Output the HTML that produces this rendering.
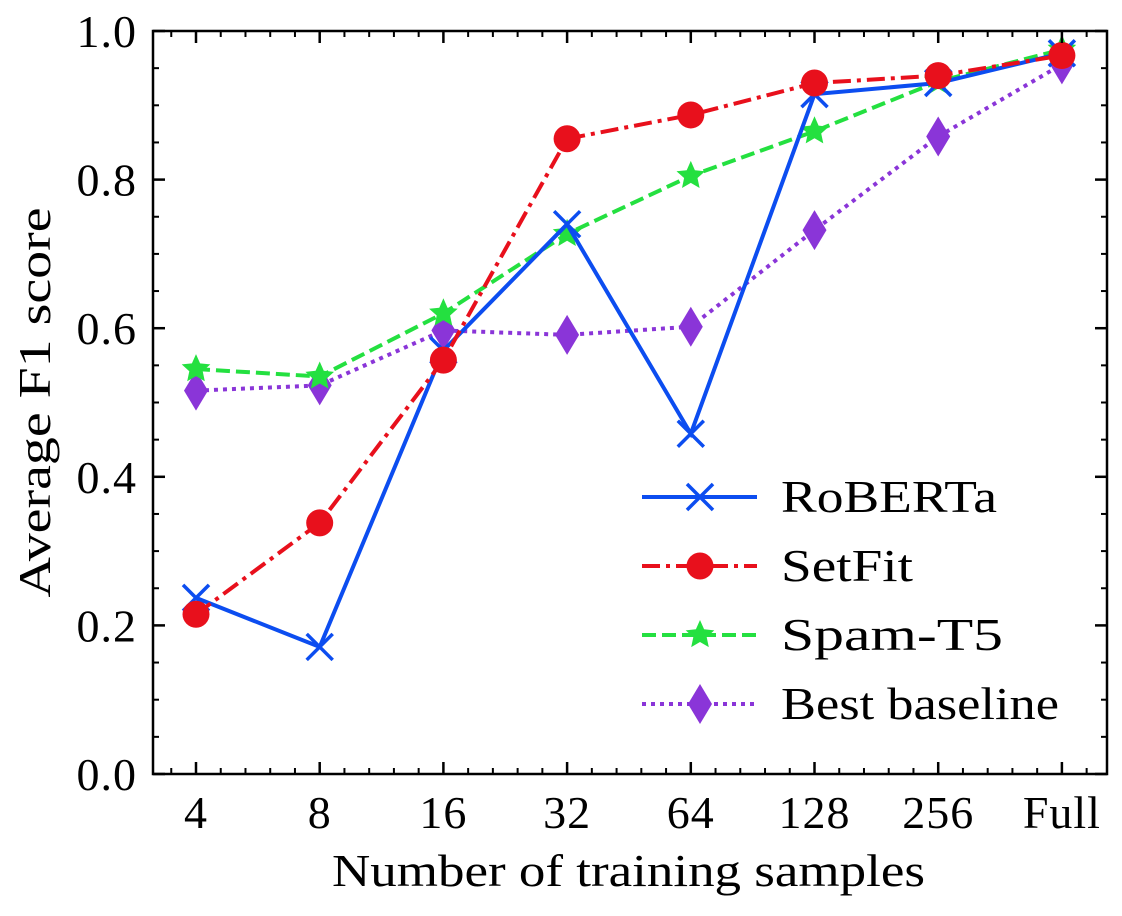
<!DOCTYPE html>
<html><head><meta charset="utf-8"><style>
body{margin:0;background:#fff;}
svg text{font-family:"Liberation Serif",serif;fill:#000;}
</style></head><body>
<svg id="chart" width="1122" height="911" xmlns="http://www.w3.org/2000/svg">
<g id="grid"></g>
<g id="series"></g>
<g id="axes"></g>
<g id="legend"></g>
</svg>
<script>
const categories=["4","8","16","32","64","128","256","Full"];
const robertaValues=[0.237,0.171,0.57,0.74,0.458,0.915,0.93,0.97];
const setfitValues=[0.215,0.338,0.557,0.855,0.887,0.93,0.94,0.967];
const spamT5Values=[0.545,0.535,0.62,0.727,0.805,0.865,0.932,0.975];
const baselineValues=[0.516,0.523,0.597,0.591,0.602,0.732,0.858,0.955];
const yTickLabels=["0.0","0.2","0.4","0.6","0.8","1.0"];
const yTickValues=[0,0.2,0.4,0.6,0.8,1.0];
const seriesNames=["RoBERTa","SetFit","Spam-T5","Best baseline"];
const legendWidths=[216,132,222,278];

const NS="http://www.w3.org/2000/svg";
const L=153,R=1107,T=31,B=774;
const X0=196,DX=123.7;
function xs(i){return X0+i*DX;}
function ys(v){return B-(v)*(B-T);}
function mk(tag,attrs,parent){const e=document.createElementNS(NS,tag);for(const k in attrs)e.setAttribute(k,attrs[k]);parent.appendChild(e);return e;}
const axes=document.getElementById('axes'),ser=document.getElementById('series'),leg=document.getElementById('legend');

const frame=mk('rect',{x:L,y:T,width:R-L,height:B-T,fill:'none',stroke:'#000','stroke-width':2.5},axes);



for(let i=0;i<categories.length;i++){
  const x=xs(i);
  mk('line',{x1:x,x2:x,y1:B,y2:B-12,stroke:'#000','stroke-width':2.5},axes);
  mk('line',{x1:x,x2:x,y1:T,y2:T+12,stroke:'#000','stroke-width':2.5},axes);
  const t=mk('text',{x:x,y:B+54,'font-size':46,'text-anchor':'middle','letter-spacing':1},axes);
  t.textContent=categories[i];
  
  
}
for(let k=-2;k<40;k++){
  const x=X0+k*DX/5;
  if(x<=L+1||x>=R-1||k%5===0)continue;
  mk('line',{x1:x,x2:x,y1:B,y2:B-6,stroke:'#000','stroke-width':2},axes);
  mk('line',{x1:x,x2:x,y1:T,y2:T+6,stroke:'#000','stroke-width':2},axes);
}
for(let i=0;i<yTickValues.length;i++){
  const y=ys(yTickValues[i]);
  mk('line',{x1:L,x2:L+12,y1:y,y2:y,stroke:'#000','stroke-width':2.5},axes);
  mk('line',{x1:R,x2:R-12,y1:y,y2:y,stroke:'#000','stroke-width':2.5},axes);
  const t=mk('text',{x:L-16,y:y+16,'font-size':46,'text-anchor':'end','letter-spacing':1},axes);
  t.textContent=yTickLabels[i];
  
  
}
for(let k=1;k<20;k++){
  if(k%4===0)continue;
  const y=ys(k*0.05);
  mk('line',{x1:L,x2:L+6,y1:y,y2:y,stroke:'#000','stroke-width':2},axes);
  mk('line',{x1:R,x2:R-6,y1:y,y2:y,stroke:'#000','stroke-width':2},axes);
}
const xt=mk('text',{x:332,y:886,'font-size':46,textLength:593,lengthAdjust:'spacingAndGlyphs'},axes);
xt.textContent="Number of training samples";


const yt=mk('text',{x:-195,y:0,'font-size':46,textLength:390,lengthAdjust:'spacingAndGlyphs',transform:`translate(50,${(T+B)/2}) rotate(-90)`},axes);
yt.textContent="Average F1 score";



function marker(kind,color,x,y,parent){
  if(kind==='x'){
    const g=mk('g',{stroke:color,'stroke-width':3.5},parent);
    mk('line',{x1:x-13,y1:y-13,x2:x+13,y2:y+13},g);mk('line',{x1:x-13,y1:y+13,x2:x+13,y2:y-13},g);return g;
  }
  if(kind==='o')return mk('circle',{cx:x,cy:y,r:13.5,fill:color},parent);
  if(kind==='star'){let p=[];for(let i=0;i<10;i++){const a=-Math.PI/2+i*Math.PI/5,r=i%2?7:15;p.push((x+r*Math.cos(a)).toFixed(1)+','+(y+r*Math.sin(a)).toFixed(1));}
    return mk('polygon',{points:p.join(' '),fill:color},parent);}
  return mk('polygon',{points:`${x},${y-20} ${x+12},${y} ${x},${y+20} ${x-12},${y}`,fill:color},parent);
}
const styles=[
  {vals:robertaValues,color:'#0c4df0',dash:'',m:'x',name:'roberta'},
  {vals:setfitValues,color:'#e8101c',dash:'18 6 4 6',m:'o',name:'setfit'},
  {vals:spamT5Values,color:'#24e040',dash:'14 6',m:'star',name:'spam-t5'},
  {vals:baselineValues,color:'#8a35d8',dash:'4 5',m:'d',name:'best-baseline'}
];
const order=[3,2,0,1];
order.forEach(si=>{
  const s=styles[si];
  const g=mk('g',{},ser);
  
  
  const pts=s.vals.map((v,i)=>xs(i)+','+ys(v)).join(' ');
  const pl=mk('polyline',{points:pts,fill:'none',stroke:s.color,'stroke-width':4,'stroke-dasharray':s.dash},g);
  
  
  s.vals.forEach((v,i)=>{
    const mm=marker(s.m,s.color,xs(i),ys(v),g);
    
    
  });
});
styles.forEach((s,i)=>{
  const y=497+i*69;
  const g=mk('g',{},leg);
  
  
  mk('line',{x1:642,x2:757,y1:y,y2:y,stroke:s.color,'stroke-width':4,'stroke-dasharray':s.dash},g);
  marker(s.m,s.color,700,y,g);
  const t=mk('text',{x:781,y:y+15,'font-size':46,textLength:legendWidths[i],lengthAdjust:'spacingAndGlyphs'},g);
  t.textContent=seriesNames[i];
});
</script>
</body></html>
